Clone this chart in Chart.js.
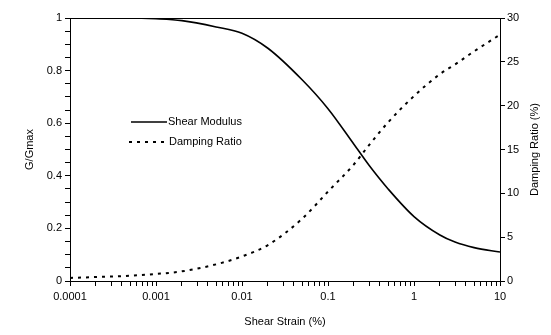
<!DOCTYPE html>
<html>
<head>
<meta charset="utf-8">
<script src="https://cdn.jsdelivr.net/npm/chart.js@4.4.1/dist/chart.umd.min.js"></script>
<style>
  html, body { margin: 0; padding: 0; background: #fff; }
  #wrap { width: 551px; height: 335px; position: relative; }
</style>
</head>
<body>
<div id="wrap"><canvas id="curves"></canvas></div>
<script>
// shear strain (%) and the two curves
const strain   = [0.0001, 0.0002, 0.0005, 0.001, 0.002, 0.005, 0.01, 0.02, 0.05, 0.1, 0.2, 0.3, 0.5, 1, 2, 3, 5, 10];
const modulus  = [1, 1, 1, 0.997, 0.99, 0.966, 0.942, 0.885, 0.765, 0.655, 0.52, 0.44, 0.35, 0.245, 0.175, 0.148, 0.127, 0.11];
const damping  = [0.35, 0.45, 0.6, 0.8, 1.1, 1.9, 2.8, 4.1, 7.1, 10.2, 13.3, 15.5, 18.1, 21.1, 23.6, 24.7, 26.2, 28.1];
const decades  = [0.0001, 0.001, 0.01, 0.1, 1, 10];
const seriesNames = ['Shear Modulus', 'Damping Ratio'];
const rightTitle = 'Damping Ratio (%)';

const FONT = { family: '"Liberation Sans", Arial, sans-serif', size: 11 };

const pts = (ys) => strain.map((x, i) => ({ x: x, y: ys[i] }));

// top frame line, right-hand title (reads upward) and legend inside the plot
const framePlugin = {
  id: 'frame',
  afterDraw(chart) {
    const ctx = chart.ctx;
    const a = chart.chartArea;
    ctx.save();
    ctx.strokeStyle = '#000';
    ctx.lineWidth = 1;
    ctx.beginPath();
    ctx.moveTo(a.left, a.top + 0.5);
    ctx.lineTo(a.right, a.top + 0.5);
    ctx.stroke();

    ctx.font = FONT.size + 'px ' + FONT.family;
    ctx.fillStyle = '#000';

    ctx.save();
    ctx.translate(chart.width - 16, (a.top + a.bottom) / 2);
    ctx.rotate(-Math.PI / 2);
    ctx.textAlign = 'center';
    ctx.textBaseline = 'middle';
    ctx.fillText(rightTitle, 0, 0);
    ctx.restore();

    ctx.textBaseline = 'middle';
    chart.data.datasets.forEach((ds, i) => {
      const y = a.top + 104 + i * 20;
      const x0 = a.left + 61 - i * 2;
      ctx.lineWidth = ds.borderWidth;
      ctx.strokeStyle = ds.borderColor;
      ctx.setLineDash(ds.borderDash || []);
      ctx.beginPath();
      ctx.moveTo(x0, y);
      ctx.lineTo(a.left + 97, y);
      ctx.stroke();
      ctx.setLineDash([]);
      ctx.fillText(ds.label, a.left + 98 + i, y);
    });
    ctx.restore();
  }
};

const ctx = document.getElementById('curves').getContext('2d');
new Chart(ctx, {
  type: 'line',
  data: {
    datasets: [
      {
        label: seriesNames[0],
        data: pts(modulus),
        yAxisID: 'y',
        borderColor: '#000',
        borderWidth: 1.6,
        pointRadius: 0,
        cubicInterpolationMode: 'monotone',
        fill: false
      },
      {
        label: seriesNames[1],
        data: pts(damping),
        yAxisID: 'y2',
        borderColor: '#000',
        borderWidth: 2,
        borderDash: [3, 5],
        pointRadius: 0,
        cubicInterpolationMode: 'monotone',
        fill: false
      }
    ]
  },
  options: {
    responsive: true,
    maintainAspectRatio: false,
    animation: false,
    layout: { padding: { top: 18, left: 0, right: 0, bottom: 0 } },
    plugins: {
      legend: { display: false },
      tooltip: { enabled: false }
    },
    scales: {
      x: {
        type: 'logarithmic',
        min: 0.0001,
        max: 10,
        afterBuildTicks(scale) {
          const t = [];
          decades.forEach((d) => {
            for (let k = 1; k <= 9; k++) {
              const v = parseFloat((d * k).toPrecision(2));
              if (v <= 10) t.push({ value: v });
            }
          });
          scale.ticks = t;
        },
        afterFit(scale) { scale.height = 54; },
        ticks: {
          autoSkip: false,
          maxRotation: 0,
          padding: 4,
          color: '#000',
          font: FONT,
          callback: (v) => decades.includes(v) ? String(v) : ''
        },
        grid: { drawOnChartArea: false, tickLength: 5, color: '#000' },
        border: { color: '#000', width: 1 },
        title: { display: true, text: 'Shear Strain (%)', color: '#000', font: FONT, padding: { top: 0, bottom: 6 } }
      },
      y: {
        position: 'left',
        min: 0,
        max: 1,
        afterFit(scale) { scale.width = 70; },
        ticks: {
          stepSize: 0.05,
          autoSkip: false,
          padding: 3,
          color: '#000',
          font: FONT,
          callback: (v) => {
            const r = Math.round(v * 100);
            return r % 20 === 0 ? String(r / 100) : '';
          }
        },
        grid: { drawOnChartArea: false, tickLength: 5, color: '#000' },
        border: { color: '#000', width: 1 },
        title: { display: true, text: 'G/Gmax', color: '#000', font: FONT, padding: { top: 23, bottom: 0 } }
      },
      y2: {
        position: 'right',
        min: 0,
        max: 30,
        afterFit(scale) { scale.width = 51; },
        ticks: {
          stepSize: 5,
          padding: 2,
          color: '#000',
          font: FONT
        },
        grid: { drawOnChartArea: false, tickLength: 5, color: '#000' },
        border: { color: '#000', width: 1 },
        title: { display: false }
      }
    }
  },
  plugins: [framePlugin]
});
</script>
</body>
</html>
